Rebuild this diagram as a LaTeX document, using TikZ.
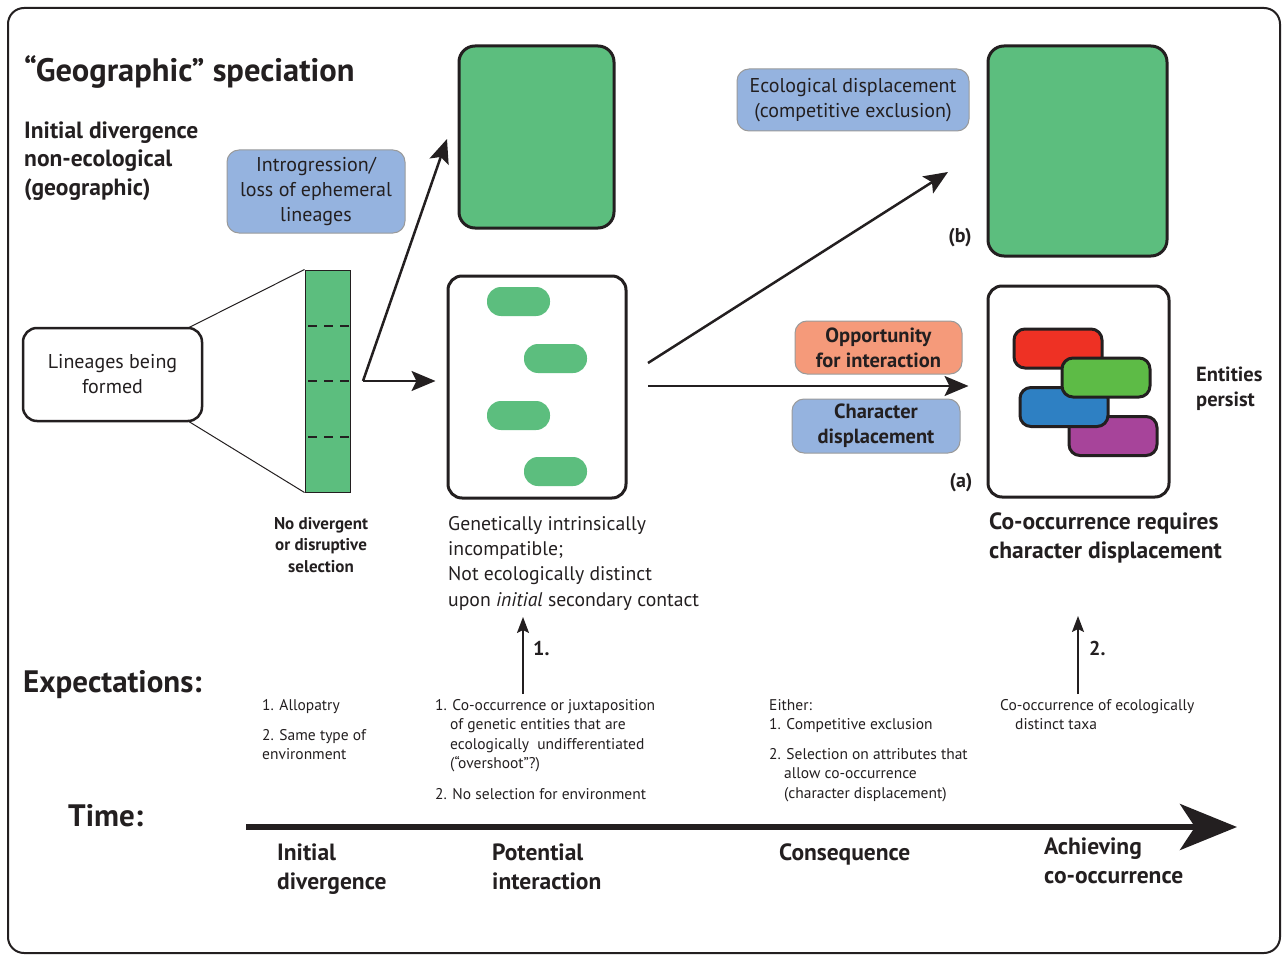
\documentclass[tikz,border=0pt]{standalone}
\usepackage{fontspec}
\setmainfont{PT Sans}
\usetikzlibrary{arrows.meta}
\definecolor{txt}{HTML}{231F20}
\definecolor{leaf}{HTML}{5CBE7E}
\definecolor{bluebox}{HTML}{95B3DF}
\definecolor{orangebox}{HTML}{F59A7A}
\definecolor{boxedge}{HTML}{9A9A9A}
\definecolor{pillred}{HTML}{EE3124}
\definecolor{pillgreen}{HTML}{5DBB46}
\definecolor{pillblue}{HTML}{2E80C3}
\definecolor{pillpurple}{HTML}{A7449A}
\begin{document}
\begin{tikzpicture}[x=1pt,y=-1pt,
  every node/.style={text=txt, inner sep=0pt},
  labelbox/.style={draw=boxedge, line width=1pt, rounded corners=12pt, align=center},
  bigbox/.style={draw=txt, line width=3pt, rounded corners=16pt},
  whitebox/.style={draw=txt, line width=2.5pt, fill=white, rounded corners=14pt},
  greenpill/.style={fill=leaf, rounded corners=14pt, minimum width=63pt, minimum height=29pt},
  colpill/.style={draw=txt, line width=3pt, rounded corners=11pt, minimum width=88pt, minimum height=39pt},
  arr/.style={draw=txt, line width=2.5pt, -{Stealth[length=24pt,width=20pt,inset=5pt]}},
  smallarr/.style={draw=txt, line width=2pt, -{Stealth[length=16pt,width=12pt,inset=3pt]}},
  thin/.style={draw=txt, line width=1pt},
  bodyf/.style={font=\fontsize{20}{25}\selectfont},
  boldf/.style={font=\fontsize{20.5}{25}\selectfont\bfseries},
  smallf/.style={font=\fontsize{15.5}{19.5}\selectfont},
  headf/.style={font=\fontsize{31}{34}\selectfont\bfseries},
  subhf/.style={font=\fontsize{23.5}{29}\selectfont\bfseries},
  tagf/.style={font=\fontsize{20}{22}\selectfont\bfseries},
]
\useasboundingbox (0,0) rectangle (1283,955);
\draw[line width=2pt, draw=txt, rounded corners=16pt] (8,8) rectangle (1280,953);

% headings
\node[font=\fontsize{32.5}{34}\selectfont\bfseries, anchor=base west] (title) at (24,82) {“Geographic” speciation};
\node[subhf, anchor=base west, align=left] (initdiv) at (24,196) {Initial divergence\\non-ecological\\(geographic)};

% label boxes
\node[labelbox, fill=bluebox, minimum width=178pt, minimum height=83pt, bodyf] (intro) at (316,191.5) {Introgression/\\loss of ephemeral\\lineages};
\node[labelbox, fill=bluebox, minimum width=232pt, minimum height=62pt, bodyf] (ecol) at (853,100) {Ecological displacement\\(competitive exclusion)};
\node[labelbox, fill=orangebox, minimum width=167pt, minimum height=53pt, boldf] (opp) at (878.5,347.5) {Opportunity\\for interaction};
\node[labelbox, fill=bluebox, minimum width=168pt, minimum height=54pt, boldf] (chard) at (876,426) {Character\\displacement};

% green outcome boxes
\node[bigbox, fill=leaf, minimum width=155pt, minimum height=182pt] (topgreen) at (536.5,137) {};
\node[bigbox, fill=leaf, minimum width=179pt, minimum height=210pt] (rightgreen) at (1077.5,151) {};
\node[tagf] (blab) at (960,238) {(b)};

% lineages box and strip
\node[whitebox, minimum width=179pt, minimum height=93pt, align=center, bodyf] (lineages) at (112.5,374.5) {Lineages being\\formed};
\node[draw=txt, line width=1pt, fill=leaf, minimum width=45pt, minimum height=222pt] (strip) at (327.5,381) {};
\coordinate (lt) at (188,328);
\coordinate (lb) at (188,421);
\draw[thin] (lt) -- (strip.north west);
\draw[thin] (lb) -- (strip.south west);
\foreach \yy/\nm in {326/da,381/db,437/dc}{
  \coordinate (\nm l) at (305,\yy);
  \coordinate (\nm r) at (350,\yy);
  \draw[draw=txt, line width=1.6pt, dash pattern=on 9pt off 7pt, dash phase=-3pt] (\nm l) -- (\nm r);
}
\node[font=\fontsize{17}{21.5}\selectfont\bfseries, align=center, anchor=base] (nodiv) at (321,572) {No divergent\\or disruptive\\selection};

% middle box
\node[whitebox, line width=3pt, minimum width=178pt, minimum height=222pt] (midbox) at (537,387) {};
\node[greenpill] (g1) at (518.5,301.5) {};
\node[greenpill] (g2) at (555.5,358.5) {};
\node[greenpill] (g3) at (518.5,415.5) {};
\node[greenpill] (g4) at (555.5,471.5) {};
\node[font=\fontsize{19.7}{25.3}\selectfont, align=left, anchor=base west] (gen) at (448,606) {Genetically intrinsically\\incompatible;\\Not ecologically distinct\\upon \textit{initial} secondary contact};

% right box
\node[whitebox, line width=3pt, minimum width=181pt, minimum height=211pt] (rightbox) at (1078.5,391.5) {};
\node[colpill, fill=pillred] (pr) at (1058,348.5) {};
\node[colpill, fill=pillpurple] (pp) at (1113,436) {};
\node[colpill, fill=pillblue] (pb) at (1064,407) {};
\node[colpill, fill=pillgreen] (pg) at (1106,377.5) {};
\node[boldf, align=left, anchor=base west] (persist) at (1196,406) {Entities\\persist};
\node[tagf] (alab) at (961,483) {(a)};
\node[subhf, align=left, anchor=base west] (cooc) at (989,558) {Co-occurrence requires\\character displacement};

% arrows
\coordinate (split) at (363,381);
\coordinate (uptip) at (447,139);
\coordinate (dstart) at (648,363);
\coordinate (dtip) at (948,172);
\coordinate (hstart) at (648,386);
\draw[arr] (split) -- ([xshift=-11pt]midbox.west |- split);
\draw[arr] (split) -- (uptip);
\draw[arr] (dstart) -- (dtip);
\draw[arr] (hstart) -- ([xshift=-18pt]rightbox.west |- hstart);

% expectations
\node[headf, anchor=base west] (expect) at (23,692) {Expectations:};
\coordinate (e1s) at (523,694);
\coordinate (e1t) at (523,617);
\coordinate (e2s) at (1078,694);
\coordinate (e2t) at (1078,616);
\draw[smallarr] (e1s) -- (e1t);
\draw[smallarr] (e2s) -- (e2t);
\node[tagf, anchor=base west] (one) at (533,655) {1.};
\node[tagf, anchor=base west] (two) at (1089,655) {2.};

\node[smallf, anchor=base west] (a1) at (262,710) {1. Allopatry};
\node[smallf, anchor=base west, align=left] (a2) at (262,759.5) {2. Same type of\\environment};
\node[smallf, anchor=base west, align=left] (b1) at (435,768.5) {1. Co-occurrence or juxtaposition\\\hspace*{15pt}of genetic entities that are\\\hspace*{15pt}ecologically\ \ undifferentiated\\\hspace*{15pt}(“overshoot”?)};
\node[smallf, anchor=base west] (b2) at (435,799) {2. No selection for environment};
\node[smallf, anchor=base west, align=left] (c1) at (769,729.5) {Either:\\1. Competitive exclusion};
\node[smallf, anchor=base west, align=left] (c2) at (769,798) {2. Selection on attributes that\\\hspace*{15pt}allow co-occurrence\\\hspace*{15pt}(character displacement)};
\node[smallf, anchor=base west, align=left] (d1) at (1000,729.5) {Co-occurrence of ecologically\\\hspace*{15pt}distinct taxa};

% time axis
\node[headf, anchor=base west] (time) at (68,826) {Time:};
\coordinate (ts) at (246,827);
\coordinate (te) at (1237,827);
\draw[draw=txt, line width=6pt, -{Stealth[length=57pt,width=46pt,inset=15pt]}] (ts) -- (te);
\node[subhf, align=left, anchor=base west] (t1) at (277,889) {Initial\\divergence};
\node[subhf, align=left, anchor=base west] (t2) at (492,889) {Potential\\interaction};
\node[subhf, anchor=base west] (t3) at (779,860) {Consequence};
\node[subhf, align=left, anchor=base west] (t4) at (1044,883) {Achieving\\co-occurrence};
\end{tikzpicture}
\end{document}
